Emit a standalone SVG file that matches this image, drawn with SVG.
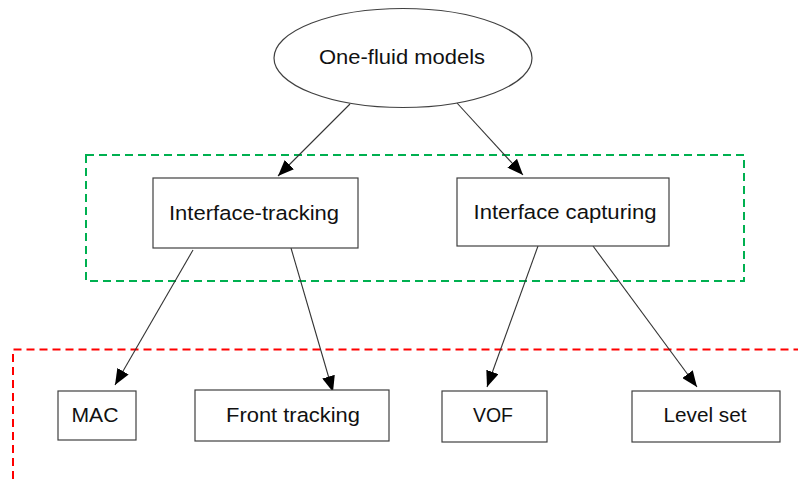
<svg xmlns="http://www.w3.org/2000/svg" width="798" height="479" viewBox="0 0 798 479">
<style>
.node{fill:#fff;stroke:#404040;stroke-width:1.2}
.lbl{font-family:"Liberation Sans",Arial,sans-serif;font-size:20.5px;fill:#111;text-anchor:middle}
.edge{stroke:#333;stroke-width:1.1;fill:none}
</style>
<defs>
<marker id="arr" viewBox="0 0 16 13" refX="16" refY="6.5" markerWidth="16" markerHeight="13" markerUnits="userSpaceOnUse" orient="auto">
<path d="M0,0 L16,6.5 L0,13 z" fill="#000"/>
</marker>
</defs>
<rect x="86" y="155" width="658" height="126" fill="none" stroke="#00B050" stroke-width="2" stroke-dasharray="8,5"/>
<path d="M13,479 V349.5 H798" fill="none" stroke="#FF0000" stroke-width="2" stroke-dasharray="8,5"/>
<g id="edges">
<line class="edge" x1="350" y1="104" x2="278" y2="176" marker-end="url(#arr)"/>
<line class="edge" x1="457" y1="103" x2="523" y2="175" marker-end="url(#arr)"/>
<line class="edge" x1="193" y1="250" x2="115" y2="385" marker-end="url(#arr)"/>
<line class="edge" x1="291" y1="248" x2="333" y2="392" marker-end="url(#arr)"/>
<line class="edge" x1="538" y1="246" x2="487" y2="387" marker-end="url(#arr)"/>
<line class="edge" x1="593" y1="246" x2="697" y2="387" marker-end="url(#arr)"/>
</g>
<g id="one-fluid">
<ellipse class="node" cx="403" cy="58" rx="129" ry="49.5"/>
<text class="lbl" x="402" y="64" textLength="166" lengthAdjust="spacingAndGlyphs">One-fluid models</text>
</g>
<g id="interface-tracking">
<rect class="node" x="153" y="178" width="205" height="70"/>
<text class="lbl" x="254" y="220" textLength="170" lengthAdjust="spacingAndGlyphs">Interface-tracking</text>
</g>
<g id="interface-capturing">
<rect class="node" x="457" y="178" width="212" height="68"/>
<text class="lbl" x="565" y="219" textLength="183" lengthAdjust="spacingAndGlyphs">Interface capturing</text>
</g>
<g id="mac">
<rect class="node" x="58" y="391" width="78" height="49"/>
<text class="lbl" x="95" y="422" textLength="47" lengthAdjust="spacingAndGlyphs">MAC</text>
</g>
<g id="front-tracking">
<rect class="node" x="195" y="390" width="194" height="51"/>
<text class="lbl" x="293" y="422" textLength="134" lengthAdjust="spacingAndGlyphs">Front tracking</text>
</g>
<g id="vof">
<rect class="node" x="442" y="391" width="105" height="51"/>
<text class="lbl" x="493" y="422" textLength="40" lengthAdjust="spacingAndGlyphs">VOF</text>
</g>
<g id="level-set">
<rect class="node" x="632" y="391" width="148" height="51"/>
<text class="lbl" x="705" y="422" textLength="83" lengthAdjust="spacingAndGlyphs">Level set</text>
</g>
</svg>
